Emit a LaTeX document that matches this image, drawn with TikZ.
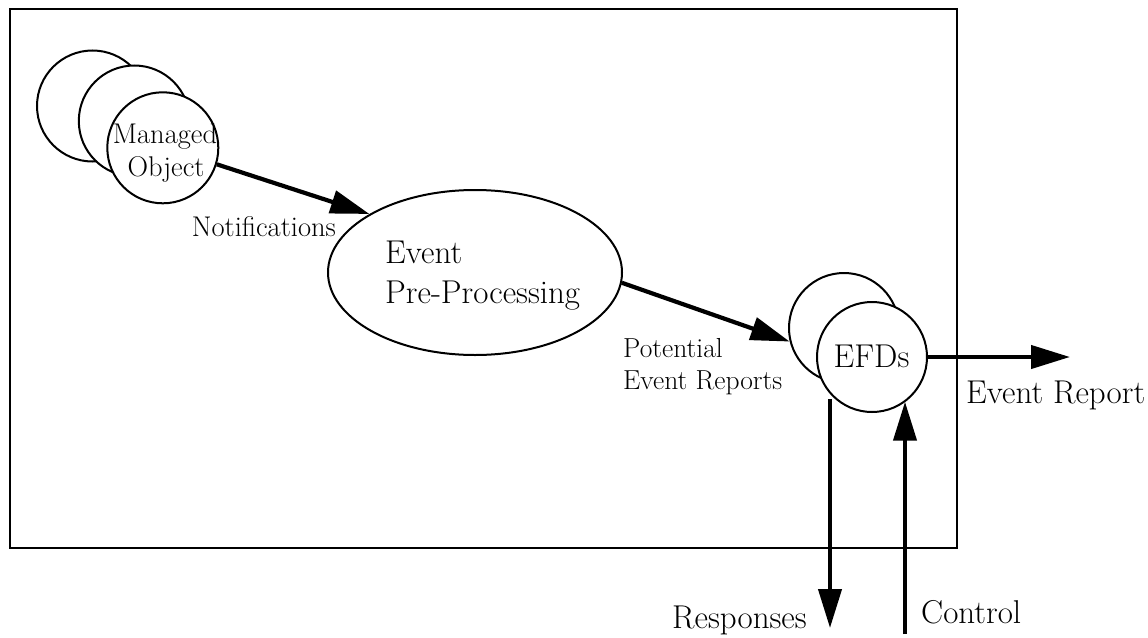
\documentclass[tikz,border=0pt]{standalone}
\usepackage{fontspec}
\usetikzlibrary{arrows.meta,shapes.geometric}
\begin{document}
\begin{tikzpicture}[x=1pt,y=-1pt,
  objcircle/.style={circle,draw,line width=2pt,fill=white,inner sep=0pt,minimum size=111pt},
  efdcircle/.style={circle,draw,line width=2pt,fill=white,inner sep=0pt,minimum size=110pt},
  arr/.style={line width=4.2pt,-{Triangle[length=39pt,width=23pt]}},
  bigtxt/.style={font=\fontsize{33}{38}\selectfont,inner sep=0pt},
  midtxt/.style={font=\fontsize{28.5}{32}\selectfont,inner sep=0pt},
  smalltxt/.style={font=\fontsize{27.5}{31}\selectfont,inner sep=0pt}]
\useasboundingbox (0,0) rectangle (1148,637);
% frame
\draw[line width=2pt] (10,9) rectangle (957,548);
% managed objects
\node[objcircle] (mo3) at (92.5,106) {};
\node[objcircle] (mo2) at (134.3,121) {};
\node[objcircle] (mo) at (162.8,147.8) {};
\node[midtxt,anchor=base] (mol1) at (165,143.3) {Managed};
\node[midtxt,anchor=base] (mol2) at (166,176.7) {Object};
% event pre-processing
\node[ellipse,draw,line width=2pt,inner sep=0pt,minimum width=294pt,minimum height=165pt] (epp) at (475,272.5) {};
\node[bigtxt,anchor=base west] (eppl1) at (385,263) {Event};
\node[bigtxt,anchor=base west] (eppl2) at (385,303) {Pre-Processing};
% EFDs
\node[efdcircle] (efd2) at (844,328) {};
\node[efdcircle] (efd) at (872,357) {};
\node[bigtxt,anchor=base] (efdl) at (871.5,367) {EFDs};
% free ends
\coordinate (ertip) at (1070,357);
\coordinate (rtip) at (830,628);
\coordinate (cbot) at (905,634);
% connectors
\draw[arr] (mo.-17.2) -- (epp.151.3);
\draw[arr] (epp.-4.9) -- (efd2.-166);
\draw[arr] (efd.east) -- (ertip);
\draw[arr] (rtip |- efd.-131) -- (rtip);
\draw[arr] (cbot) -- (cbot |- efd.-53.1);
% labels
\node[midtxt,anchor=base west] (notif) at (191.7,236.7) {Notifications};
\node[smalltxt,anchor=base west] (pot1) at (623,357) {Potential};
\node[smalltxt,anchor=base west] (pot2) at (623,389) {Event Reports};
\node[bigtxt,anchor=base west] (erl) at (966,403) {Event Report};
\node[bigtxt,anchor=base west] (resl) at (672,628) {Responses};
\node[bigtxt,anchor=base west] (ctll) at (921,623) {Control};
\end{tikzpicture}
\end{document}
